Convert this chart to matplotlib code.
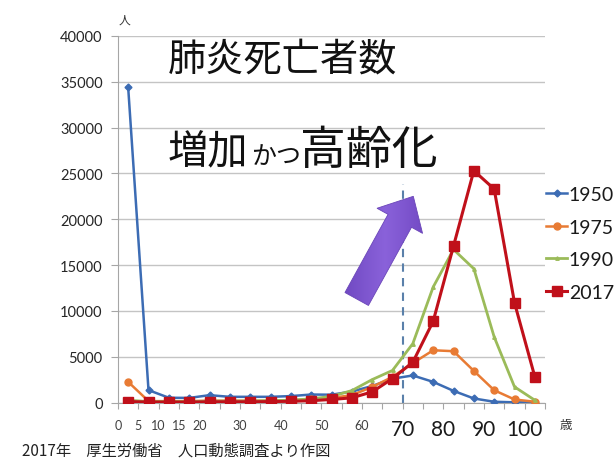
import numpy as np
import matplotlib
matplotlib.use('Agg')
import matplotlib.pyplot as plt
from matplotlib.patches import Polygon
from matplotlib.colors import LinearSegmentedColormap

plt.rcParams['font.family'] = ['Lato', 'Noto Sans CJK JP', 'DejaVu Sans']
JP = ['Noto Sans CJK JP', 'DejaVu Sans']

# age classes 0-4, 5-9, ..., 100+  (plotted at class middle)
ages = np.arange(2.5, 105, 5)
d1950 = [34400, 1350, 520, 500, 800, 620, 620, 620, 700, 870, 850, 1200, 1800, 2600, 2950, 2250, 1270, 440, 80, 20, 0]
d1975 = [2250, 150, 150, 150, 200, 200, 200, 200, 250, 350, 500, 800, 1700, 2800, 4300, 5700, 5600, 3450, 1340, 330, 80]
d1990 = [250, 100, 100, 100, 150, 150, 150, 200, 250, 400, 670, 1300, 2500, 3500, 6430, 12600, 16700, 14600, 7160, 1710, 250]
d2017 = [100, 50, 50, 50, 80, 80, 80, 100, 130, 200, 330, 510, 1160, 2610, 4400, 8860, 17070, 25300, 23300, 10890, 2800]
series = ['1950', '1975', '1990', '2017']

small_ticks = [0, 5, 10, 15, 20, 30, 40, 50, 60]
big_ticks = [70, 80, 90, 100]

fig = plt.figure(figsize=(6.16, 4.64), dpi=100)
ax = fig.add_axes([118/616, 1-403.5/464, 427/616, 366.5/464])

ax.plot(ages, d1950, color='#3C6CB4', lw=1.8, marker='D', ms=3.5, label=series[0], zorder=3)
ax.plot(ages, d1975, color='#E87B34', lw=1.8, marker='o', ms=5, label=series[1], zorder=3)
ax.plot(ages, d1990, color='#9BBB59', lw=2.0, marker='^', ms=2.5, label=series[2], zorder=3)
ax.plot(ages, d2017, color='#C0101A', lw=2.2, marker='s', ms=6.5, label=series[3], zorder=4)

ax.plot([70, 70], [0, 23900], color='#5A80AA', lw=1.5, ls=(0, (4, 3)), zorder=2)

ax.set_xlim(0, 105)
ax.set_ylim(0, 40000)
ax.set_yticks(range(0, 40001, 5000))
ax.yaxis.grid(True, color='#C4C4C4', lw=1)
ax.set_axisbelow(True)
for s in ['top', 'right']:
    ax.spines[s].set_visible(False)
ax.spines['left'].set_color('#A6A6A6')
ax.spines['bottom'].set_color('#A6A6A6')
ax.tick_params(axis='y', length=5, color='#A6A6A6', labelsize=10.5, labelcolor='#262626', pad=6)

xt = list(range(0, 106, 5))
ax.set_xticks(xt)
labs = [str(t) if (t in small_ticks or t in big_ticks) else '' for t in xt]
ax.set_xticklabels(labs)
ax.tick_params(axis='x', length=4, color='#A6A6A6', labelcolor='#404040', pad=8)
for t, lab in zip(xt, ax.get_xticklabels()):
    if t in big_ticks:
        lab.set_fontsize(15)
        lab.set_color('#1a1a1a')
    else:
        lab.set_fontsize(9)

leg = ax.legend(loc='upper left', bbox_to_anchor=(546/616, 1-187/464), bbox_transform=fig.transFigure,
                frameon=False, fontsize=14, handlelength=1.1, handletextpad=0.08,
                labelspacing=0.8, borderaxespad=0, borderpad=0)
for txt in leg.get_texts():
    txt.set_color('#1a1a1a')

fig.text(124/616, 1-20/464, '人', family=JP, fontsize=8.5, ha='center', va='center', color='#333333')
fig.text(566/616, 1-426/464, '歳', family=JP, fontsize=9, ha='center', va='center', color='#333333')
fig.text(22/616, 1-451/464, '2017年　厚生労働省　人口動態調査より作図', family=JP, fontsize=11,
         ha='left', va='center', color='#222222')

fig.text(283/616, 1-60/464, '肺炎死亡者数', family=JP, fontsize=27.5, ha='center', va='center', color='#111111')
base = 1-164/464
fig.text(168/616, base, '増加', family=JP, fontsize=29, ha='left', va='baseline', color='#111111')
fig.text(251/616, base, 'かつ', family=JP, fontsize=18, ha='left', va='baseline', color='#111111')
fig.text(300/616, base, '高齢化', family=JP, fontsize=33, ha='left', va='baseline', color='#111111')

# fat purple arrow, drawn in an overlay axes in image pixels
ov = fig.add_axes([0, 0, 1, 1], zorder=10)
ov.set_xlim(0, 616)
ov.set_ylim(464, 0)
ov.axis('off')
tip = np.array([413.3, 197.3])
tail = np.array([356.7, 300.0])
v = tip - tail
u = v / np.hypot(*v)
n = np.array([-u[1], u[0]])
hw, sw, hl = 26, 13.4, 28
b = tip - u * hl
pts = [tail + n*sw, b + n*sw, b + n*hw, tip, b - n*hw, b - n*sw, tail - n*sw]
arrow = Polygon(pts, closed=True, facecolor='none', edgecolor='#6A45B8', lw=0.6)
ov.add_patch(arrow)
grad = np.tile(np.linspace(0, 1, 64), (64, 1))
cm = LinearSegmentedColormap.from_list('pu', ['#6E47C0', '#8A62DA', '#7047C2'])
im = ov.imshow(grad, cmap=cm, extent=(340, 430, 310, 190), aspect='auto', interpolation='bilinear')
im.set_clip_path(arrow)

fig.savefig('out.png', dpi=100)
